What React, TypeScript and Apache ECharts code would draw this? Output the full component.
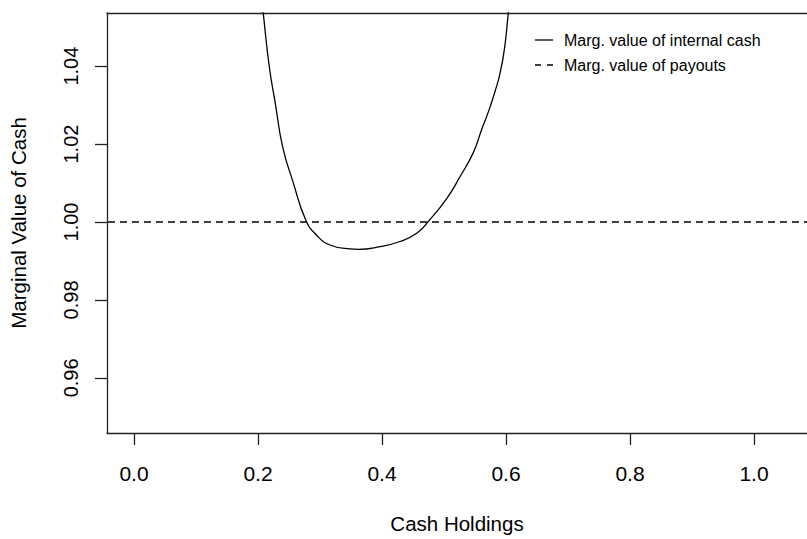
import React, { useEffect, useRef } from "react";
import * as echarts from "echarts";

// Cash holdings (x) and the marginal value of internal cash at each level
const cashHoldings = [
  0.205, 0.2085, 0.2182, 0.2282, 0.2398, 0.2565, 0.2774, 0.2947, 0.3161, 0.3484,
  0.3618, 0.3968, 0.429, 0.456, 0.475, 0.5044, 0.5258, 0.5473, 0.5605, 0.5726,
  0.5823, 0.5903, 0.5976, 0.6037, 0.607,
];
const internalCashValue = [
  1.059, 1.0536, 1.0399, 1.0302, 1.0193, 1.0103, 1.0004, 0.9966, 0.9941, 0.9931,
  0.993, 0.9937, 0.995, 0.9971, 1.0002, 1.006, 1.0116, 1.0178, 1.0236, 1.0287,
  1.0335, 1.0381, 1.0445, 1.0536, 1.0585,
];

// Marginal value of payouts is flat at 1 across the whole range
const payoutX = [-0.1, 1.2];
const payoutValue = [1.0, 1.0];

const xTicks = [0, 0.2, 0.4, 0.6, 0.8, 1.0];
const yTicks = [0.96, 0.98, 1.0, 1.02, 1.04];

const seriesNames = ["Marg. value of internal cash", "Marg. value of payouts"];

const FONT = "'Liberation Sans', Arial, sans-serif";
const FRAME = { color: "#222", width: 1.3 };
const X_MIN = -0.0435;
const X_MAX = 1.0855;

export default function App() {
  const ref = useRef<HTMLDivElement>(null);

  useEffect(() => {
    document.body.style.margin = "0";
    if (!ref.current) return;
    const chart = echarts.init(ref.current, undefined, { renderer: "svg" });
    chart.setOption({
      animation: false,
      backgroundColor: "#ffffff",
      textStyle: { fontFamily: FONT, color: "#000" },
      grid: {
        left: 107,
        top: 13,
        bottom: 103,
        right: 0,
        show: false,
      },
      legend: {
        orient: "vertical",
        left: 530,
        top: 27,
        itemWidth: 18,
        itemHeight: 1.3,
        itemGap: 9,
        symbolKeepAspect: false,
        selectedMode: false,
        textStyle: {
          fontFamily: FONT,
          fontSize: 16,
          color: "#000",
          lineHeight: 16,
          padding: [0, 0, 0, 6],
        },
        data: [
          { name: seriesNames[0], icon: "path://M0,0H18V1H0Z" },
          { name: seriesNames[1], icon: "path://M0,0H6V1H0Z M12,0H18V1H12Z" },
        ],
      },
      xAxis: [
        {
          type: "value",
          position: "bottom",
          min: X_MIN,
          max: X_MAX,
          name: "Cash Holdings",
          nameLocation: "middle",
          nameGap: 80,
          nameTextStyle: { fontFamily: FONT, fontSize: 20.5, color: "#000" },
          splitLine: { show: false },
          axisLine: { show: true, onZero: false, lineStyle: FRAME },
          axisTick: {
            show: true,
            length: 12,
            customValues: xTicks,
            lineStyle: FRAME,
          },
          axisLabel: {
            customValues: xTicks,
            margin: 30,
            fontFamily: FONT,
            fontSize: 21,
            color: "#000",
            formatter: (v: number) => v.toFixed(1),
          },
        },
        {
          // top edge of the plot frame
          type: "value",
          position: "top",
          min: X_MIN,
          max: X_MAX,
          splitLine: { show: false },
          axisLine: { show: true, onZero: false, lineStyle: FRAME },
          axisTick: { show: false },
          axisLabel: { show: false },
        },
      ],
      yAxis: {
        type: "value",
        min: 0.94586,
        max: 1.05363,
        name: "Marginal Value of Cash",
        nameLocation: "middle",
        nameGap: 78,
        nameTextStyle: { fontFamily: FONT, fontSize: 20.5, color: "#000" },
        splitLine: { show: false },
        axisLine: { show: true, onZero: false, lineStyle: FRAME },
        axisTick: {
          show: true,
          length: 12,
          customValues: yTicks,
          lineStyle: FRAME,
        },
        axisLabel: {
          customValues: yTicks,
          rotate: 90,
          margin: 26,
          fontFamily: FONT,
          fontSize: 20,
          color: "#000",
          formatter: (v: number) => v.toFixed(2),
        },
      },
      series: [
        {
          name: seriesNames[0],
          type: "line",
          xAxisIndex: 0,
          data: cashHoldings.map((x, i) => [x, internalCashValue[i]]),
          symbol: "none",
          smooth: 0.5,
          clip: true,
          lineStyle: { color: "#000", width: 1.3, type: "solid" },
          itemStyle: { color: "#000" },
        },
        {
          name: seriesNames[1],
          type: "line",
          xAxisIndex: 0,
          data: payoutX.map((x, i) => [x, payoutValue[i]]),
          symbol: "none",
          clip: true,
          lineStyle: { color: "#000", width: 1.3, type: [7, 5] },
          itemStyle: { color: "#000" },
        },
      ],
    });
    return () => chart.dispose();
  }, []);

  return <div ref={ref} style={{ width: 807, height: 539 }} />;
}
